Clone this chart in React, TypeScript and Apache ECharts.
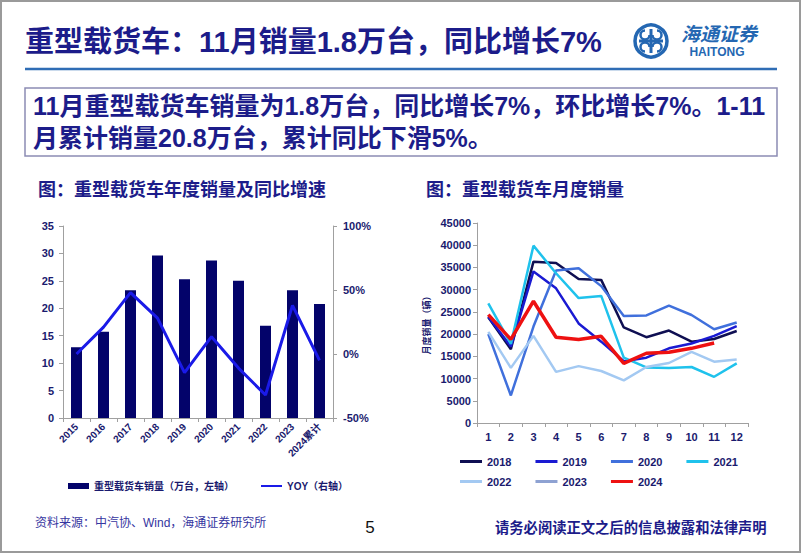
import React, { useEffect, useRef } from "react";
import * as echarts from "echarts";

// ---------- data ----------
const years = ["2015", "2016", "2017", "2018", "2019", "2020", "2021", "2022", "2023", "2024累计"];
const annualSales = [12.9, 15.7, 23.3, 29.6, 25.3, 28.7, 25.0, 16.8, 23.3, 20.8];
const annualYoy = [0, 21, 48, 28, -14.5, 13.5, -11, -32, 38, -5];

const months = ["1", "2", "3", "4", "5", "6", "7", "8", "9", "10", "11", "12"];
const s2018 = [23800, 16600, 36300, 36000, 32400, 32200, 21500, 19300, 20800, 18300, 18900, 20700];
const s2019 = [23900, 17200, 34100, 30300, 22400, 18300, 13900, 14700, 16800, 17900, 19600, 21800];
const s2020 = [20000, 6200, 21700, 34300, 34800, 30800, 24100, 24200, 26400, 24300, 21100, 22600];
const s2021 = [26900, 17800, 39900, 33700, 28100, 28600, 14700, 12500, 12400, 12600, 10400, 13400];
const s2022 = [20500, 12400, 19600, 11500, 12800, 11700, 9600, 12600, 13500, 16000, 13800, 14300];
const s2023: number[] = [];
const s2024 = [24400, 18800, 27400, 19300, 18800, 19500, 13400, 15700, 15900, 16800, 18000];

const barName = "重型载货车销量（万台，左轴）";
const yoyName = "YOY（右轴）";

const navy = "#1a1a6e";
const titleBlue = "#1c1c8a";
const axisGray = "#a0a0a0";
const FONT = "'Liberation Sans', Arial, 'Noto Sans CJK SC', sans-serif";
const logoBlue = "#2467b2";

const monthly = [
  { name: "2018", data: s2018, color: "#0f0f52", width: 2.5 },
  { name: "2019", data: s2019, color: "#1a1ad2", width: 2.5 },
  { name: "2020", data: s2020, color: "#4070dc", width: 2.5 },
  { name: "2021", data: s2021, color: "#1fc2ec", width: 2.5 },
  { name: "2022", data: s2022, color: "#a3c9f2", width: 2.5 },
  { name: "2023", data: s2023, color: "#8ea2d2", width: 2.5 },
  { name: "2024", data: s2024, color: "#ee1111", width: 3.5 },
];

const txt = (x: number, y: number, text: string, o: any = {}) => ({
  type: "text",
  x,
  y,
  silent: true,
  z: 100,
  scaleX: o.scaleX ?? 1,
  style: {
    text,
    fill: o.fill ?? titleBlue,
    fontSize: o.size ?? 12,
    fontWeight: o.weight ?? "bold",
    fontStyle: o.italic ? "italic" : "normal",
    fontFamily: o.family ?? FONT,
    align: o.align ?? "left",
    verticalAlign: "middle",
  },
});

export default function App() {
  const ref = useRef<HTMLDivElement>(null);
  useEffect(() => {
    if (!ref.current) return;
    const chart = echarts.init(ref.current, null, { renderer: "svg" });
    const axisLabelStyle = { color: navy, fontWeight: "bold", fontFamily: FONT, fontSize: 10 };
    const option: any = {
      animation: false,
      backgroundColor: "#ffffff",
      grid: [
        { left: 63, top: 226, width: 270, height: 192 },
        { left: 477, top: 223, width: 271, height: 200 },
      ],
      xAxis: [
        {
          type: "category",
          gridIndex: 0,
          data: years,
          axisLine: { lineStyle: { color: axisGray } },
          axisTick: { show: true, length: 4, lineStyle: { color: axisGray } },
          axisLabel: { ...axisLabelStyle, rotate: 45, interval: 0, margin: 7 },
        },
        {
          type: "category",
          gridIndex: 1,
          data: months,
          axisLine: { lineStyle: { color: axisGray } },
          axisTick: { show: true, length: 4, lineStyle: { color: axisGray } },
          axisLabel: { ...axisLabelStyle, fontSize: 11, interval: 0, margin: 8 },
        },
      ],
      yAxis: [
        {
          type: "value",
          gridIndex: 0,
          min: 0,
          max: 35,
          interval: 5,
          axisLine: { show: true, lineStyle: { color: axisGray } },
          axisTick: { show: true, length: 4, lineStyle: { color: axisGray } },
          splitLine: { show: false },
          axisLabel: { ...axisLabelStyle, fontSize: 11, margin: 9 },
        },
        {
          type: "value",
          gridIndex: 0,
          position: "right",
          min: -50,
          max: 100,
          interval: 50,
          axisLine: { show: true, lineStyle: { color: axisGray } },
          axisTick: { show: true, length: 4, lineStyle: { color: axisGray } },
          splitLine: { show: false },
          axisLabel: { ...axisLabelStyle, fontSize: 11, margin: 10, formatter: (v: number) => `${v}%` },
        },
        {
          type: "value",
          gridIndex: 1,
          min: 0,
          max: 45000,
          interval: 5000,
          name: "月度销量（辆）",
          nameLocation: "middle",
          nameRotate: 90,
          nameGap: 46,
          nameTextStyle: { color: navy, fontSize: 9, fontFamily: FONT, fontWeight: "bold" },
          axisLine: { show: true, lineStyle: { color: axisGray } },
          axisTick: { show: true, length: 4, lineStyle: { color: axisGray } },
          splitLine: { show: false },
          axisLabel: { ...axisLabelStyle, fontSize: 11, margin: 6, formatter: (v: number) => String(v) },
        },
      ],
      legend: [
        {
          left: 68,
          top: 481,
          padding: 0,
          icon: "rect",
          itemWidth: 21,
          itemHeight: 6,
          data: [barName],
          textStyle: { color: navy, fontSize: 10, fontWeight: "bold", fontFamily: FONT },
          selectedMode: false,
        },
        {
          left: 261,
          top: 481,
          padding: 0,
          icon: "rect",
          itemWidth: 21,
          itemHeight: 2,
          data: [yoyName],
          textStyle: { color: navy, fontSize: 10, fontWeight: "bold", fontFamily: FONT },
          selectedMode: false,
        },
        {
          left: 460,
          top: 456,
          padding: 0,
          icon: "rect",
          itemWidth: 22,
          itemHeight: 3,
          itemGap: 24,
          data: ["2018", "2019", "2020", "2021"],
          textStyle: { color: navy, fontSize: 11, fontWeight: "bold", fontFamily: FONT },
          selectedMode: false,
        },
        {
          left: 460,
          top: 476,
          padding: 0,
          icon: "rect",
          itemWidth: 22,
          itemHeight: 3,
          itemGap: 24,
          data: ["2022", "2023", "2024"],
          textStyle: { color: navy, fontSize: 11, fontWeight: "bold", fontFamily: FONT },
          selectedMode: false,
        },
      ],
      series: [
        {
          name: barName,
          type: "bar",
          xAxisIndex: 0,
          yAxisIndex: 0,
          data: annualSales,
          barWidth: 11,
          itemStyle: { color: "#03036a" },
        },
        {
          name: yoyName,
          type: "line",
          xAxisIndex: 0,
          yAxisIndex: 1,
          data: annualYoy,
          symbol: "none",
          color: "#1a1ae8",
          itemStyle: { color: "#1a1ae8" },
          lineStyle: { color: "#1a1ae8", width: 3 },
          z: 5,
        },
        ...monthly.map((m) => ({
          name: m.name,
          type: "line",
          xAxisIndex: 1,
          yAxisIndex: 2,
          data: m.data,
          symbol: "none",
          color: m.color,
          itemStyle: { color: m.color },
          lineStyle: { color: m.color, width: m.width },
          z: m.name === "2024" ? 10 : 3,
        })),
      ],
      graphic: {
        elements: [
          // page border
          { type: "rect", silent: true, shape: { x: 1, y: 1, width: 799, height: 551 }, style: { fill: "none", stroke: "#9a9a9a", lineWidth: 2 } },
          // title
          txt(25, 42, "重型载货车：11月销量1.8万台，同比增长7%", { size: 29, fill: titleBlue }),
          { type: "line", silent: true, shape: { x1: 25, y1: 69, x2: 777, y2: 69 }, style: { stroke: "#2f6db5", lineWidth: 2.5 } },
          // logo
          { type: "circle", silent: true, shape: { cx: 651, cy: 41, r: 16 }, style: { fill: "none", stroke: logoBlue, lineWidth: 3.5 } },
          { type: "line", silent: true, shape: { x1: 651, y1: 29, x2: 651, y2: 53 }, style: { stroke: logoBlue, lineWidth: 3 } },
          { type: "line", silent: true, shape: { x1: 639, y1: 41, x2: 663, y2: 41 }, style: { stroke: logoBlue, lineWidth: 3 } },
          { type: "arc", silent: true, shape: { cx: 645, cy: 35, r: 4.5, startAngle: 0, endAngle: Math.PI * 1.5 }, style: { fill: "none", stroke: logoBlue, lineWidth: 2.5 } },
          { type: "arc", silent: true, shape: { cx: 657, cy: 35, r: 4.5, startAngle: Math.PI * 1.5, endAngle: Math.PI }, style: { fill: "none", stroke: logoBlue, lineWidth: 2.5 } },
          { type: "arc", silent: true, shape: { cx: 645, cy: 47, r: 4.5, startAngle: Math.PI * 0.5, endAngle: 0 }, style: { fill: "none", stroke: logoBlue, lineWidth: 2.5 } },
          { type: "arc", silent: true, shape: { cx: 657, cy: 47, r: 4.5, startAngle: Math.PI, endAngle: Math.PI * 0.5 }, style: { fill: "none", stroke: logoBlue, lineWidth: 2.5 } },
          txt(681, 32, "海通证券", { size: 19, fill: logoBlue, italic: true, family: "'Noto Sans CJK SC', sans-serif" }),
          txt(717, 52, "HAITONG", { size: 12, fill: logoBlue, align: "center" }),
          // summary box
          { type: "rect", silent: true, shape: { x: 25, y: 88, width: 752, height: 68 }, style: { fill: "none", stroke: "#8c8cb4", lineWidth: 1.5 } },
          txt(33, 106, "11月重型载货车销量为1.8万台，同比增长7%，环比增长7%。1-11", { size: 25, fill: titleBlue }),
          txt(33, 138, "月累计销量20.8万台，累计同比下滑5%。", { size: 25, fill: titleBlue }),
          // chart titles
          txt(38, 190, "图：重型载货车年度销量及同比增速", { size: 18, fill: titleBlue }),
          txt(426, 190, "图：重型载货车月度销量", { size: 18, fill: titleBlue }),
          // footer
          txt(35, 523, "资料来源：中汽协、Wind，海通证券研究所", { size: 12, weight: "normal", fill: "#3535a0" }),
          txt(370, 527, "5", { size: 17, weight: "normal", fill: "#111111", align: "center" }),
          txt(495, 528, "请务必阅读正文之后的信息披露和法律声明", { size: 14.3, fill: titleBlue }),
        ],
      },
    };
    chart.setOption(option);
    return () => chart.dispose();
  }, []);
  return (
    <div
      ref={ref}
      style={{ position: "absolute", left: 0, top: 0, width: 802, height: 554, background: "#fff" }}
    />
  );
}
